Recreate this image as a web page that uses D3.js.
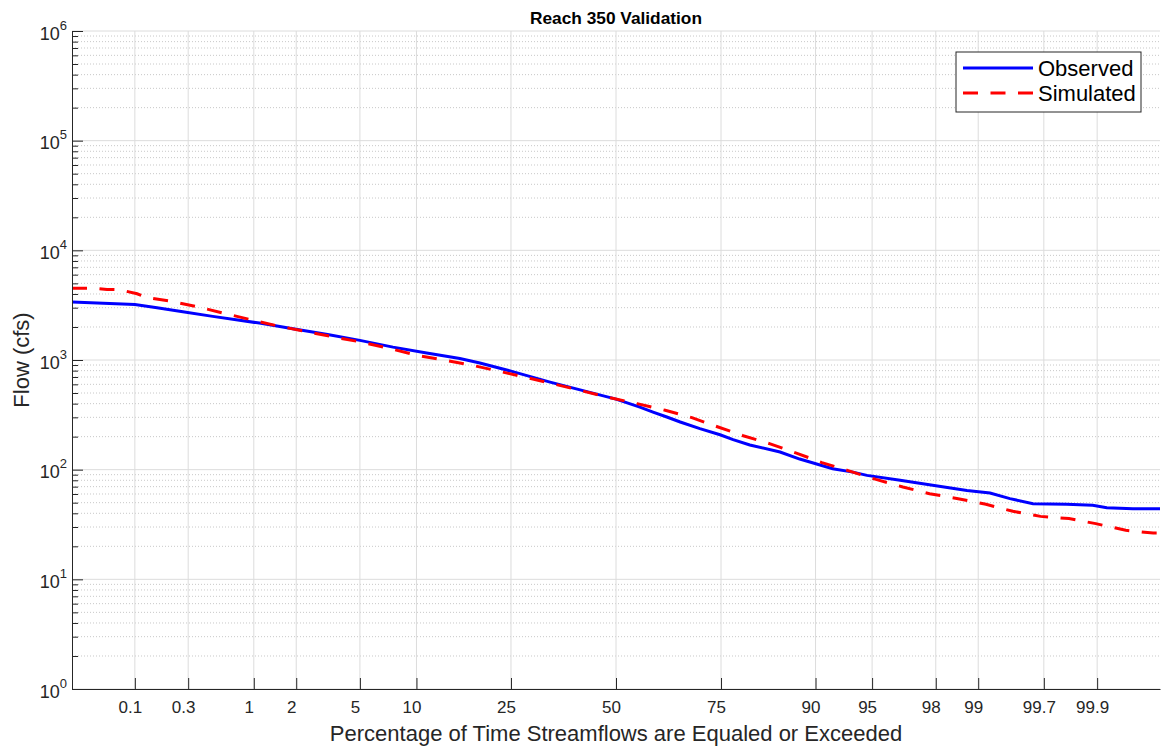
<!DOCTYPE html>
<html lang="en">
<head>
    <meta charset="UTF-8">
    <title>Reach 350 Validation</title>
    <script src="https://cdn.jsdelivr.net/npm/d3@7"></script>
    <style>
        body { margin: 0; background: #fff; }
        svg { display: block; font-family: "Liberation Sans", Arial, sans-serif; }
    </style>
</head>
<body>
<div id="chart-space"></div>

<script>
    // exceedance percentage vs flow (cfs)
    var obsPct  = [0.0238, 0.1, 0.16, 0.27, 0.48, 1.1, 1.9, 3.2, 5.0, 7.6, 11.2, 15.8, 19.1, 25, 33.6, 50, 56.1, 59.4, 62.8, 66.0, 70.5, 74.8, 77.4, 80.5, 85.4, 88.1, 91.8, 93.6, 94.65, 96.6, 97.9, 98.79, 99.185, 99.43, 99.63, 99.81, 99.89, 99.919, 99.955, 99.9762];
    var obsFlow = [3380, 3200, 3000, 2750, 2500, 2170, 1930, 1710, 1510, 1310, 1160, 1030, 940, 792, 629, 440, 372, 335, 302, 272, 237, 208, 188, 168, 145, 125, 102, 95, 88.7, 80, 72, 64.7, 61.2, 54.4, 49, 48.3, 47.3, 45, 44, 44];

    var simPct  = [0.0238, 0.039, 0.054, 0.072, 0.105, 0.13, 0.205, 0.35, 0.58, 0.95, 1.5, 2.32, 3.5, 5.07, 7.33, 10.17, 13.74, 17.9, 22.8, 28.4, 34.8, 41.6, 48.5, 55.4, 62.4, 68.7, 74.4, 79.3, 83.9, 87.75, 90.7, 93.2, 95.25, 96.73, 97.8, 98.6, 99.125, 99.46, 99.68, 99.819, 99.897, 99.947, 99.972, 99.9762];
    var simFlow = [4520, 4520, 4400, 4370, 4020, 3700, 3460, 3080, 2680, 2330, 2040, 1820, 1620, 1460, 1270, 1100, 991, 893, 787, 690, 600, 521, 453, 400, 348, 298, 245, 204, 172, 141, 116, 98, 81.5, 69.5, 60.4, 54.4, 48.3, 41.7, 37.5, 35.8, 32.2, 28, 26.4, 26.4];

    var xLimits = [0.0238, 99.9762];
    var xTicks = [0.1, 0.3, 1, 2, 5, 10, 25, 50, 75, 90, 95, 98, 99, 99.7, 99.9];
    var xTickLabels = ["0.1", "0.3", "1", "2", "5", "10", "25", "50", "75", "90", "95", "98", "99", "99.7", "99.9"];
    var yExponents = [0, 1, 2, 3, 4, 5, 6];
    var seriesNames = ["Observed", "Simulated"];

    var width = 1167;
    var height = 748;
    var margin = {top: 31, right: 7, bottom: 59, left: 72};
    var chartWidth = width - margin.left - margin.right;
    var chartHeight = height - margin.top - margin.bottom;

    // inverse normal CDF (Acklam)
    function probit(p) {
        var a = [-3.969683028665376e+01, 2.209460984245205e+02, -2.759285104469687e+02, 1.383577518672690e+02, -3.066479806614716e+01, 2.506628277459239e+00];
        var b = [-5.447609879822406e+01, 1.615858368580409e+02, -1.556989798598866e+02, 6.680131188771972e+01, -1.328068155288572e+01];
        var c = [-7.784894002430293e-03, -3.223964580411365e-01, -2.400758277161838e+00, -2.549732539343734e+00, 4.374664141464968e+00, 2.938163982698783e+00];
        var d = [7.784695709041462e-03, 3.224671290700398e-01, 2.445134137142996e+00, 3.754408661907416e+00];
        var plow = 0.02425, q, r;
        if (p < plow) {
            q = Math.sqrt(-2 * Math.log(p));
            return (((((c[0]*q+c[1])*q+c[2])*q+c[3])*q+c[4])*q+c[5]) / ((((d[0]*q+d[1])*q+d[2])*q+d[3])*q+1);
        }
        if (p <= 1 - plow) {
            q = p - 0.5; r = q * q;
            return (((((a[0]*r+a[1])*r+a[2])*r+a[3])*r+a[4])*r+a[5])*q / (((((b[0]*r+b[1])*r+b[2])*r+b[3])*r+b[4])*r+1);
        }
        q = Math.sqrt(-2 * Math.log(1 - p));
        return -(((((c[0]*q+c[1])*q+c[2])*q+c[3])*q+c[4])*q+c[5]) / ((((d[0]*q+d[1])*q+d[2])*q+d[3])*q+1);
    }
    function z(pct) { return probit(pct / 100); }

    var svg = d3.select("#chart-space")
                .append("svg")
                .attr("width", width)
                .attr("height", height);

    var g = svg.append("g").attr("transform", "translate(" + margin.left + "," + margin.top + ")");

    var xScale = d3.scaleLinear()
                    .domain([z(xLimits[0]), z(xLimits[1])])
                    .range([0, chartWidth]);

    var yScale = d3.scaleLog()
                    .domain([1, 1e6])
                    .range([chartHeight, 0]);

    var majorY = yExponents.map(function(e){ return Math.pow(10, e); });
    var minorY = [];
    majorY.slice(0, -1).forEach(function(v){
        for (var k = 2; k <= 9; k++) minorY.push(v * k);
    });

    // grid
    g.append("g").selectAll("line").data(minorY).join("line")
        .attr("x1", 0).attr("x2", chartWidth)
        .attr("y1", function(d){ return yScale(d); }).attr("y2", function(d){ return yScale(d); })
        .attr("stroke", "#c8c8c8").attr("stroke-width", 1).attr("stroke-dasharray", "1,2");
    g.append("g").selectAll("line").data(majorY).join("line")
        .attr("x1", 0).attr("x2", chartWidth)
        .attr("y1", function(d){ return yScale(d); }).attr("y2", function(d){ return yScale(d); })
        .attr("stroke", "#dcdcdc").attr("stroke-width", 1);
    g.append("g").selectAll("line").data(xTicks).join("line")
        .attr("x1", function(d){ return xScale(z(d)); }).attr("x2", function(d){ return xScale(z(d)); })
        .attr("y1", 0).attr("y2", chartHeight)
        .attr("stroke", "#dcdcdc").attr("stroke-width", 1);

    // lines
    var line = d3.line()
                .x(function(d){ return xScale(z(d[0])); })
                .y(function(d){ return yScale(d[1]); });

    g.append("path")
        .datum(d3.zip(obsPct, obsFlow))
        .attr("d", line)
        .attr("fill", "none").attr("stroke", "#0000ff").attr("stroke-width", 3);

    g.append("path")
        .datum(d3.zip(simPct, simFlow))
        .attr("d", line)
        .attr("fill", "none").attr("stroke", "#ff0000").attr("stroke-width", 3)
        .attr("stroke-dasharray", "15,12.5");

    // x axis
    var xAxis = g.append("g")
        .attr("transform", "translate(0," + chartHeight + ")")
        .call(d3.axisBottom(xScale)
                .tickValues(xTicks.map(z))
                .tickFormat(function(d, i){ return xTickLabels[i]; })
                .tickSizeInner(-11).tickSizeOuter(0).tickPadding(12));
    xAxis.select(".domain").attr("stroke", "#262626");
    xAxis.selectAll(".tick line").attr("stroke", "#262626");
    xAxis.selectAll(".tick text")
        .attr("font-size", 17).attr("fill", "#262626")
        .attr("font-family", "Liberation Sans, Arial, sans-serif")
        .attr("dx", -5);

    // y axis: minor then major ticks
    var yMinor = g.append("g")
        .call(d3.axisLeft(yScale).tickValues(minorY).tickFormat("")
                .tickSizeInner(-6).tickSizeOuter(0));
    yMinor.select(".domain").attr("stroke", "#262626");
    yMinor.selectAll(".tick line").attr("stroke", "#262626");

    var yMajor = g.append("g")
        .call(d3.axisLeft(yScale).tickValues(majorY).tickFormat("")
                .tickSizeInner(-11).tickSizeOuter(0));
    yMajor.select(".domain").remove();
    yMajor.selectAll(".tick line").attr("stroke", "#262626");

    var yLab = yMajor.selectAll(".tick").append("text")
        .attr("x", -5).attr("y", 8)
        .attr("text-anchor", "end")
        .attr("fill", "#262626")
        .attr("font-family", "Liberation Sans, Arial, sans-serif")
        .attr("font-size", 18);
    yLab.append("tspan").text("10");
    yLab.append("tspan").attr("dy", -10).attr("font-size", 13)
        .text(function(d){ return Math.round(Math.log10(d)); });

    // titles
    svg.append("text")
        .attr("x", margin.left + chartWidth / 2).attr("y", 24)
        .attr("text-anchor", "middle")
        .attr("font-size", 17.3).attr("font-weight", "bold").attr("fill", "#000")
        .text("Reach 350 Validation");

    svg.append("text")
        .attr("x", margin.left + chartWidth / 2).attr("y", 741)
        .attr("text-anchor", "middle")
        .attr("font-size", 22).attr("fill", "#262626")
        .text("Percentage of Time Streamflows are Equaled or Exceeded");

    svg.append("text")
        .attr("transform", "translate(29,360) rotate(-90)")
        .attr("text-anchor", "middle")
        .attr("font-size", 22).attr("fill", "#262626")
        .text("Flow (cfs)");

    // legend
    var legend = svg.append("g");
    legend.append("rect")
        .attr("x", 956).attr("y", 52).attr("width", 185).attr("height", 60)
        .attr("fill", "#fff").attr("stroke", "#262626").attr("stroke-width", 1);
    var legStyles = [{color: "#0000ff", dash: null}, {color: "#ff0000", dash: "15,12.5"}];
    seriesNames.forEach(function(name, i){
        var ly = 68 + i * 25;
        legend.append("line")
            .attr("x1", 963).attr("x2", 1033).attr("y1", ly).attr("y2", ly)
            .attr("stroke", legStyles[i].color).attr("stroke-width", 3)
            .attr("stroke-dasharray", legStyles[i].dash);
        legend.append("text")
            .attr("x", 1038).attr("y", ly + 8)
            .attr("font-size", 22).attr("fill", "#000")
            .text(name);
    });
</script>
</body>
</html>
